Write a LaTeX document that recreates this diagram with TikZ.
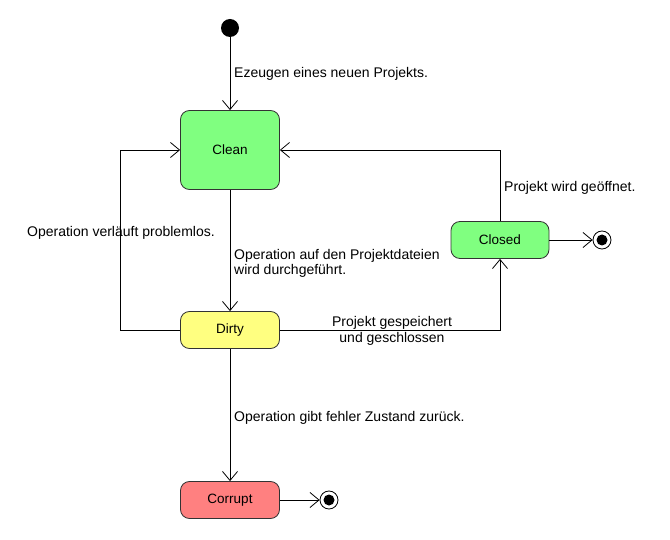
\documentclass[tikz,border=0pt]{standalone}
\usepackage{fontspec}
\setmainfont{Liberation Sans}
\usetikzlibrary{arrows.meta}
\definecolor{stgreen}{HTML}{80FF80}
\definecolor{styellow}{HTML}{FFFF80}
\definecolor{stred}{HTML}{FF8080}
\tikzset{
  state/.style={draw=black!80, line width=0.8pt, rounded corners=9pt, minimum width=99pt, inner sep=0pt, font=\fontsize{13.5}{16}\selectfont},
  trans/.style={draw=black, line width=0.8pt, -{Straight Barb[length=9pt,width=15pt,line width=0.8pt]}},
  lbl/.style={font=\fontsize{14}{15.5}\selectfont, inner sep=0pt}
}
\begin{document}
\begin{tikzpicture}[x=1pt,y=-1pt]
\useasboundingbox (0,0) rectangle (670,540);
\node[circle, fill=black, minimum size=18pt, inner sep=0pt] (init) at (230,28) {};
\node[state, fill=stgreen, minimum height=79pt] (clean) at (230,150) {Clean};
\node[state, fill=styellow, minimum height=37pt] (dirty) at (230,330) {Dirty};
\node[state, fill=stgreen, minimum height=37pt, minimum width=98pt] (closed) at (500,240) {Closed};
\node[state, fill=stred, minimum height=37pt] (corrupt) at (230,500) {Corrupt};
\node[circle, draw=black, line width=0.8pt, fill=white, minimum size=18pt, inner sep=0pt] (fin1) at (602,240) {};
\node[circle, fill=black, minimum size=11pt, inner sep=0pt] at (fin1) {};
\node[circle, draw=black, line width=0.8pt, fill=white, minimum size=18pt, inner sep=0pt] (fin2) at (329,500) {};
\node[circle, fill=black, minimum size=11pt, inner sep=0pt] at (fin2) {};

\coordinate (lt) at (120,330);
\coordinate (lb) at (120,150);
\coordinate (rb) at (500,330);
\coordinate (rt) at (500,150);

\draw[trans] (init) -- (clean);
\draw[trans] (clean) -- (dirty);
\draw[trans] (dirty) -- (corrupt);
\draw[trans] (dirty.west) -- (lt) -- (lb) -- (clean.west);
\draw[trans] (dirty.east) -- (rb) -- (closed.south);
\draw[trans] (closed.north) -- (rt) -- (clean.east);
\draw[trans] (closed) -- (fin1);
\draw[trans] (corrupt) -- (fin2);

\node[lbl, anchor=west] (l1) at (234,73.5) {Ezeugen eines neuen Projekts.};
\node[lbl, anchor=west, align=left] (l2) at (234,263.5) {Operation auf den Projektdateien\\wird durchgeführt.};
\node[lbl, anchor=west] (l3) at (27,233) {Operation verläuft problemlos.};
\node[lbl, align=center] (l4) at (392,331) {Projekt gespeichert\\und geschlossen};
\node[lbl, anchor=west] (l5) at (504,188) {Projekt wird geöffnet.};
\node[lbl, anchor=west] (l6) at (234,418) {Operation gibt fehler Zustand zurück.};
\end{tikzpicture}
\end{document}
